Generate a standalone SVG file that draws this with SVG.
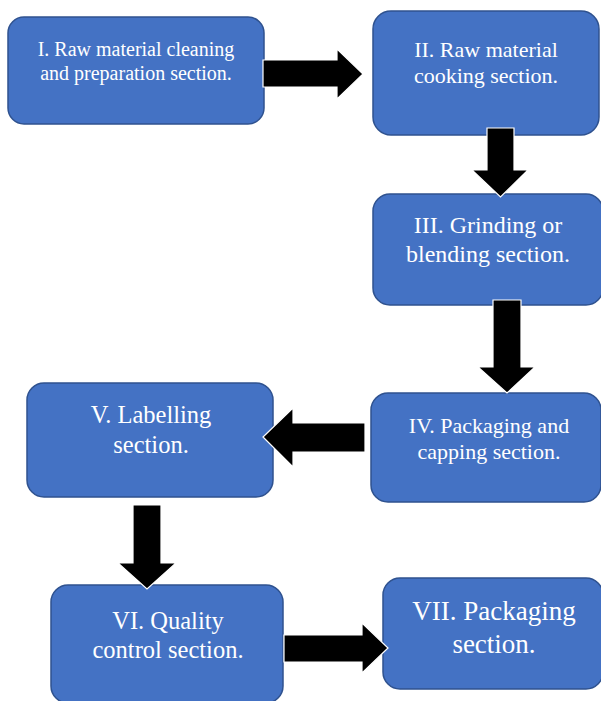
<svg xmlns="http://www.w3.org/2000/svg" width="601" height="701" viewBox="0 0 601 701">
<style>
.box{fill:#4472C4;stroke:#2F528F;stroke-width:1.5}
text{fill:#ffffff;font-family:'Liberation Serif','Times New Roman',Times,serif;text-anchor:middle}
.arr{fill:#000000;stroke:#ffffff;stroke-width:1.2;stroke-linejoin:miter}
</style>
<rect width="601" height="701" fill="#ffffff"/>
<g id="node1">
<rect class="box" x="8" y="17" width="256" height="107" rx="16"/>
<text font-family="Liberation Serif, serif" font-size="20" x="136" y="56">I. Raw material cleaning</text>
<text font-family="Liberation Serif, serif" font-size="20" x="136" y="80">and preparation section.</text>
</g>
<g id="node2">
<rect class="box" x="373" y="11" width="226" height="124" rx="18"/>
<text font-family="Liberation Serif, serif" font-size="22" x="486" y="57">II. Raw material</text>
<text font-family="Liberation Serif, serif" font-size="22" x="486" y="83">cooking section.</text>
</g>
<g id="node3">
<rect class="box" x="373" y="194" width="230" height="111" rx="17"/>
<text font-family="Liberation Serif, serif" font-size="24" x="488" y="233">III. Grinding or</text>
<text font-family="Liberation Serif, serif" font-size="24" x="488" y="262">blending section.</text>
</g>
<g id="node4">
<rect class="box" x="371" y="393" width="230" height="109" rx="17"/>
<text font-family="Liberation Serif, serif" font-size="22" x="489" y="433">IV. Packaging and</text>
<text font-family="Liberation Serif, serif" font-size="22" x="489" y="459">capping section.</text>
</g>
<g id="node5">
<rect class="box" x="27" y="383" width="246" height="114" rx="17"/>
<text font-family="Liberation Serif, serif" font-size="24.5" x="151" y="423">V. Labelling</text>
<text font-family="Liberation Serif, serif" font-size="24.5" x="151" y="453">section.</text>
</g>
<g id="node6">
<rect class="box" x="51" y="585" width="232" height="118" rx="17"/>
<text font-family="Liberation Serif, serif" font-size="24.5" x="168" y="629">VI. Quality</text>
<text font-family="Liberation Serif, serif" font-size="24.5" x="168" y="658">control section.</text>
</g>
<g id="node7">
<rect class="box" x="383" y="578" width="220" height="111" rx="17"/>
<text font-family="Liberation Serif, serif" font-size="27" x="494" y="620">VII. Packaging</text>
<text font-family="Liberation Serif, serif" font-size="27" x="494" y="653">section.</text>
</g>
<g id="connectors">
<polygon class="arr" points="263,60 337,60 337,49 363,74 337,99 337,87 263,87"/>
<polygon class="arr" points="487,128 514,128 514,170 528,170 500.5,197 472,170 487,170"/>
<polygon class="arr" points="493,300 521,300 521,367 535,367 507,393 478,367 493,367"/>
<polygon class="arr" points="365,423 365,452 293,452 293,467 263,437 293,408 293,423"/>
<polygon class="arr" points="133,505 161,505 161,563 176,563 147,589 118,563 133,563"/>
<polygon class="arr" points="284,635 362,635 362,623 388,648 362,673 362,662 284,662"/>
</g>
</svg>
